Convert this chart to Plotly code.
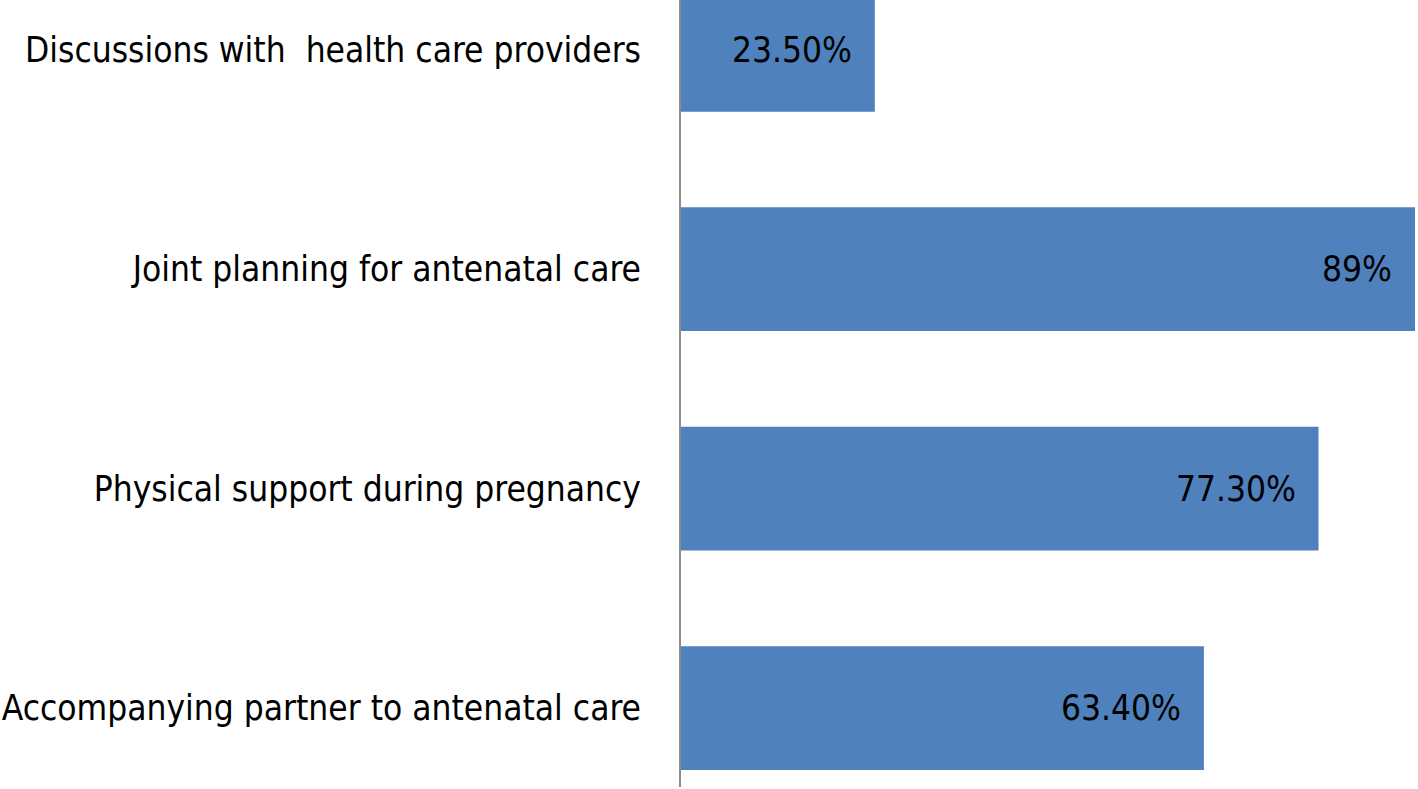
import plotly.graph_objects as go

# bottom to top order (plotly puts the first category at the bottom)
categories = ["Accompanying partner to antenatal care",
              "Physical support during pregnancy",
              "Joint planning for antenatal care",
              "Discussions with  health care providers"]
values = [63.4, 77.3, 89, 23.5]
value_labels = ["63.40%", "77.30%", "89%", "23.50%"]

FONT = "Liberation Sans Narrow, DejaVu Sans Condensed, Arial Narrow, Liberation Sans, sans-serif"

fig = go.Figure(go.Bar(
    x=values, y=categories, orientation="h",
    marker=dict(color="#4F81BD", line=dict(width=0)),
    width=0.564, hoverinfo="skip",
))

for v, c, t in zip(values, categories, value_labels):
    fig.add_annotation(x=v, y=c, text=t, showarrow=False, xanchor="right",
                       xshift=-21, font=dict(family=FONT, size=35, color="black"))

fig.update_layout(
    width=1418, height=789,
    margin=dict(l=681, r=0, t=0, b=2, autoexpand=False),
    paper_bgcolor="white", plot_bgcolor="white",
    showlegend=False,
    font=dict(family=FONT, size=35, color="black"),
)
fig.update_xaxes(range=[0, 89.36], visible=False, automargin=False)
fig.update_yaxes(range=[-0.36, 3.227], showline=True, linecolor="#8c8c8c",
                 linewidth=2, showgrid=False, ticks="", ticklabelstandoff=31,
                 automargin=False,
                 tickfont=dict(family=FONT, size=35, color="black"))

# drop the default page margin so the figure sits flush at the top-left
fig.write_html("out.html", config={"displayModeBar": False},
               post_script="document.body.style.margin='0';")
